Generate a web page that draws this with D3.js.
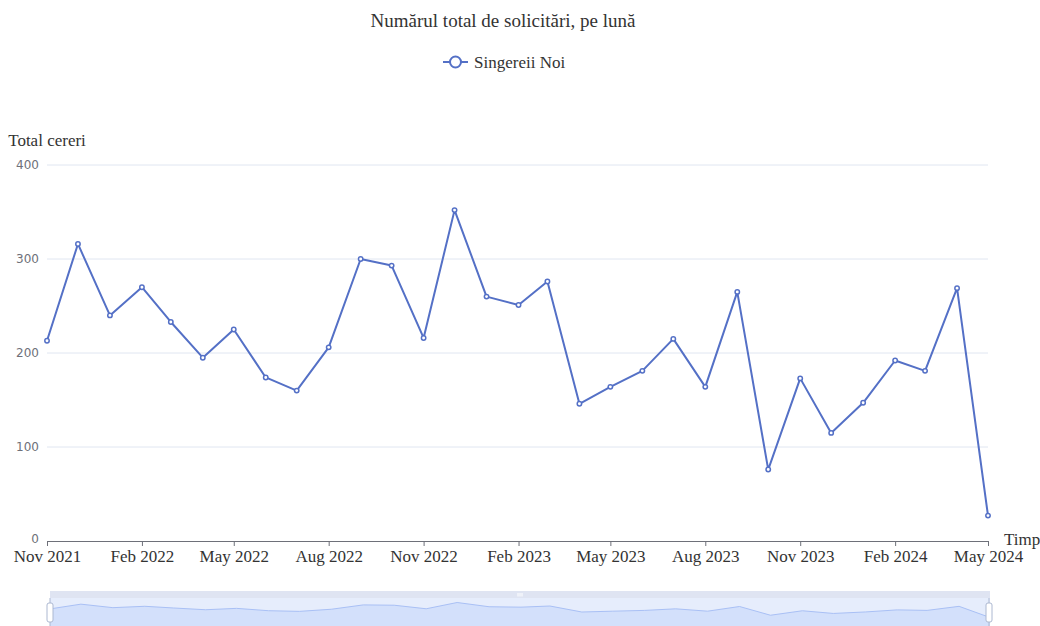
<!DOCTYPE html>
<html>
<head>
<meta charset="utf-8">
<script src="https://cdn.jsdelivr.net/npm/d3@7"></script>
<style>
  body { margin: 0; background: #fff; }
  svg { display: block; }
</style>
</head>
<body>
<div id="chart"></div>
<script>
// monthly values, Nov 2021 .. May 2024
const months = ["2021-11","2021-12","2022-01","2022-02","2022-03","2022-04","2022-05","2022-06",
  "2022-07","2022-08","2022-09","2022-10","2022-11","2022-12","2023-01","2023-02","2023-03",
  "2023-04","2023-05","2023-06","2023-07","2023-08","2023-09","2023-10","2023-11","2023-12",
  "2024-01","2024-02","2024-03","2024-04","2024-05"];
const requests = [213,316,240,270,233,195,225,174,160,206,300,293,216,352,260,251,276,
  146,164,181,215,164,265,76,173,115,147,192,181,269,27];
const yTicks = [0,100,200,300,400];
const seriesName = "Singereii Noi";
const title = "Numărul total de solicitări, pe lună";

const W = 1040, H = 626;
const gLeft = 47, gRight = 988, gTop = 165, gBottom = 541;
const color = "#5470c6";
const SERIF = "'Liberation Serif', 'Times New Roman', serif";

const parse = d3.utcParse("%Y-%m");
const data = months.map((m, i) => ({ date: parse(m), value: requests[i] }));

const svg = d3.select("#chart").append("svg")
  .attr("width", W).attr("height", H);

function serifText(sel, size) {
  return sel.style("font-family", SERIF).style("font-size", size + "px").attr("fill", "#333");
}

const x = d3.scaleUtc()
  .domain(d3.extent(data, d => d.date))
  .range([gLeft, gRight]);
const y = d3.scaleLinear().domain([0, 400]).range([gBottom, gTop]);

// title + legend
serifText(svg.append("text"), 19)
  .attr("x", 503).attr("y", 27).attr("text-anchor", "middle")
  .text(title);

const lg = svg.append("g").attr("transform", "translate(443,62)");
lg.append("line").attr("x1", 0).attr("x2", 25).attr("y1", 0).attr("y2", 0)
  .attr("stroke", color).attr("stroke-width", 2);
lg.append("circle").attr("cx", 12.5).attr("cy", 0).attr("r", 5.5)
  .attr("fill", "#fff").attr("stroke", color).attr("stroke-width", 2);
serifText(lg.append("text"), 17).attr("x", 31).attr("y", 6).text(seriesName);

// grid
svg.append("g").selectAll("line")
  .data(yTicks.filter(t => t > 0))
  .join("line")
  .attr("x1", gLeft).attr("x2", gRight)
  .attr("y1", d => y(d)).attr("y2", d => y(d))
  .attr("stroke", "#e0e6f1");

// y axis labels
svg.append("g").selectAll("text")
  .data(yTicks)
  .join("text")
  .attr("x", 39).attr("y", d => y(d) - (d === 0 ? 2 : 0)).attr("dy", "0.35em")
  .attr("text-anchor", "end")
  .style("font-family", "'DejaVu Sans', sans-serif").style("font-size", "12px")
  .attr("fill", "#6e7079")
  .text(d => d);

serifText(svg.append("text"), 17)
  .attr("x", gLeft).attr("y", 146).attr("text-anchor", "middle")
  .text("Total cereri");

// x axis
const xTickVals = data.filter((d, i) => i % 3 === 0).map(d => d.date);
const xAxis = svg.append("g")
  .attr("transform", `translate(0,${gBottom})`)
  .call(d3.axisBottom(x).tickValues(xTickVals).tickFormat(d3.utcFormat("%b %Y"))
    .tickSize(5).tickSizeOuter(0).tickPadding(4));
xAxis.attr("font-family", null).attr("font-size", null);
xAxis.select(".domain").attr("stroke", "#6e7079");
xAxis.selectAll(".tick line").attr("stroke", "#6e7079");
serifText(xAxis.selectAll(".tick text"), 17);

serifText(svg.append("text"), 17)
  .attr("x", 1004).attr("y", gBottom - 1).attr("dy", "0.3em")
  .text("Timp");

// series
const line = d3.line().x(d => x(d.date)).y(d => y(d.value));
svg.append("path").datum(data)
  .attr("d", line).attr("fill", "none")
  .attr("stroke", color).attr("stroke-width", 2).attr("stroke-linejoin", "round");

svg.append("g").selectAll("circle")
  .data(data)
  .join("circle")
  .attr("cx", d => x(d.date)).attr("cy", d => y(d.value))
  .attr("r", 2.2)
  .attr("fill", "#fff").attr("stroke", color).attr("stroke-width", 1.5);

// data zoom slider
const zl = 50, zr = 990, zTop = 598, zH = 24;
const vmin = d3.min(requests), vmax = d3.max(requests), pad = (vmax - vmin) * 0.3;
const zx = d3.scaleUtc().domain(x.domain()).range([zl, zr]);
const zy = d3.scaleLinear().domain([vmin - pad, vmax + pad]).range([zTop + zH, zTop]);

const z = svg.append("g");
z.append("rect").attr("x", zl).attr("y", 591).attr("width", zr - zl).attr("height", 7)
  .attr("fill", "#dfe4f2");
z.append("rect").attr("x", zl).attr("y", zTop).attr("width", zr - zl).attr("height", 40)
  .attr("fill", "#e6edfc");
const area = d3.area().x(d => zx(d.date)).y0(H + 10).y1(d => zy(d.value));
z.append("path").datum(data).attr("d", area).attr("fill", "#d3e0fb");
z.append("path").datum(data).attr("d", d3.line().x(d => zx(d.date)).y(d => zy(d.value)))
  .attr("fill", "none").attr("stroke", "#a9c0f5").attr("stroke-width", 1);

// move handle grip
[-2, 0, 2].forEach(o => {
  z.append("line").attr("x1", 520 + o).attr("x2", 520 + o).attr("y1", 593).attr("y2", 596.5)
    .attr("stroke", "#fff").attr("stroke-width", 1);
});

[zl, zr - 1].forEach(hx => {
  z.append("line").attr("x1", hx).attr("x2", hx).attr("y1", 598).attr("y2", H)
    .attr("stroke", "#acb8d1").attr("stroke-width", 1);
  z.append("rect").attr("x", hx - 3).attr("y", 603).attr("width", 6).attr("height", 19)
    .attr("rx", 2).attr("fill", "#fff").attr("stroke", "#acb8d1");
});
</script>
</body>
</html>
